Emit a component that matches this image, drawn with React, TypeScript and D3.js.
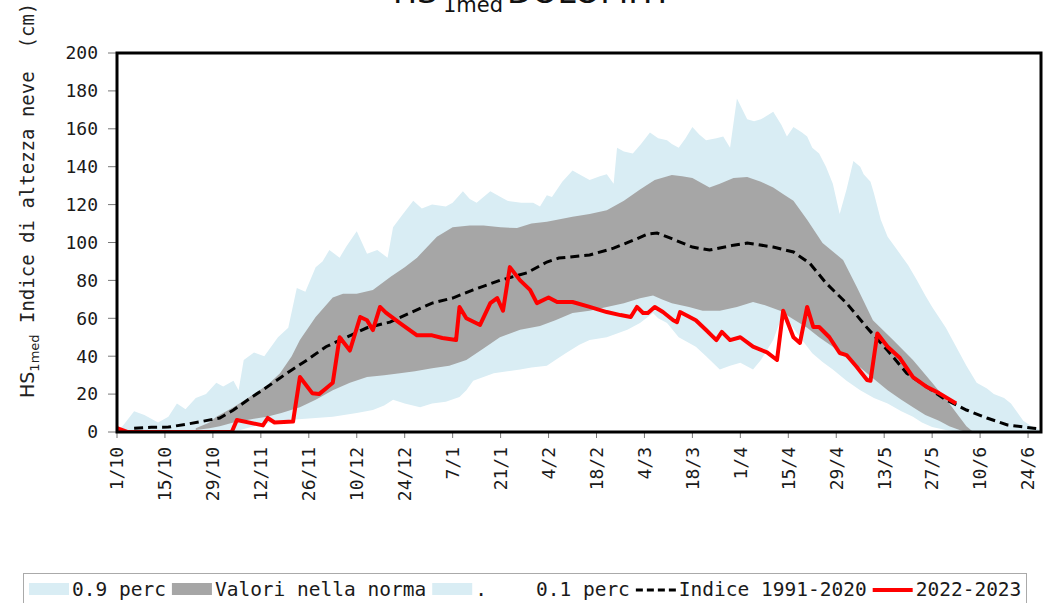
import React from 'react';
import * as d3 from 'd3';

// giorni dal 1/10 e valori (cm)
const xTickLabels = ['1/10', '15/10', '29/10', '12/11', '26/11', '10/12', '24/12', '7/1', '21/1', '4/2',
  '18/2', '4/3', '18/3', '1/4', '15/4', '29/4', '13/5', '27/5', '10/6', '24/6'];
const yTicks = [0, 20, 40, 60, 80, 100, 120, 140, 160, 180, 200];

const p90: [number, number][] = [[0, 0], [2, 4], [5, 11], [8, 9], [12, 5], [15, 8], [17.5, 15], [20, 12], [23, 18], [26, 20],
  [29, 26], [31, 24], [34, 27], [35.5, 22], [37, 38], [40, 42], [43, 40], [47, 50], [50, 55], [52.5, 76], [55, 74], [58, 87],
  [60, 90], [62, 96], [65, 92], [67, 98], [70, 106], [73, 94], [76, 96], [79, 92], [80.6, 108], [83.5, 115], [86.5, 122],
  [89, 118], [92, 120], [96, 119], [98, 121], [101, 127], [103, 123], [105, 121], [107, 124], [109, 127], [112, 124],
  [114, 122], [118, 121], [121.5, 121], [123.5, 119], [125.5, 125], [127, 124], [130, 132], [133, 138], [136, 135],
  [138, 133], [141, 135], [143, 136], [145, 131], [146, 150], [148, 148], [150.6, 147], [153, 152], [155.6, 158],
  [158, 155], [160.6, 154], [162, 152], [164, 150], [166, 155], [168, 161], [170, 157], [172, 154], [175, 155],
  [177, 156], [179, 150], [181, 176], [184, 165], [186, 164], [188, 165], [191.6, 169], [194, 162], [195.6, 156],
  [197.5, 161], [200, 158], [201.5, 156], [203, 150], [205, 147], [207, 140], [209, 131], [211, 115], [213, 128],
  [215, 143], [217, 140], [218, 136], [220, 132], [221, 126], [223, 112], [225, 103], [228.6, 94], [231, 88],
  [233.6, 80], [236, 72], [238, 66], [242, 55], [245, 45], [248, 35], [251, 26], [254, 23], [256, 20], [259, 18],
  [261, 15], [263, 10], [264.6, 6], [267, 3], [269.5, 1]];

const p75: [number, number][] = [[23, 2], [27, 5], [29, 8], [34, 13], [40, 20], [44, 25], [47.6, 31], [51, 40], [53.4, 48.5],
  [58, 60.7], [63, 71], [66, 73], [70, 73], [74.7, 75], [80, 82], [84, 87], [87.6, 92], [93.4, 103], [98, 108], [103, 109],
  [107, 109], [112, 108], [116.8, 107.6], [121, 110], [125.5, 111], [133, 113.6], [138, 115], [143, 117], [148, 122],
  [152.7, 128], [157, 133], [162, 135.6], [165, 135], [168, 134], [173, 129], [176, 131], [180, 134], [184, 134.6],
  [188, 132], [191.6, 129], [195, 125], [197.5, 122], [201.5, 112], [206, 99.7], [212, 90.8], [216, 76.5], [220.7, 59],
  [226.6, 48.5], [232.4, 38], [238, 26], [243, 15], [248, 3], [250, 0]];

const p25: [number, number][] = [[23, 1], [27, 2], [30, 3], [34, 5], [40, 7], [43.8, 8], [48, 10], [53.4, 13], [58, 17],
  [63, 22], [68, 26], [73, 29], [78, 30], [82.6, 31], [87, 32], [92, 33.6], [97, 35], [102, 38], [107, 44], [111.8, 50],
  [117.7, 54], [123.5, 56], [128, 59], [133, 62.8], [138, 64], [143, 66], [148, 68], [152.7, 70.6], [156.5, 72], [159, 70],
  [162, 68], [167, 66], [171, 64], [176, 64], [181, 66], [185.7, 68.6], [189, 67], [193.6, 64], [197, 60], [201.5, 55],
  [205, 50], [209, 45], [213, 39], [217, 34], [221, 28], [225, 22], [229, 17], [232.4, 13], [236, 9], [240, 6], [243, 3],
  [246, 1], [248, 0]];

const p10: [number, number][] = [[0, 0], [30, 0], [36, 1], [40, 3], [47, 6], [55, 7], [63, 8], [70, 10], [74.7, 11.6],
  [78, 14], [80.6, 17], [84, 15], [88.5, 13], [92, 15], [96, 16], [100, 18.5], [102, 22], [104, 27], [107, 29], [110, 31],
  [114, 32], [117.7, 33], [121, 34], [125.5, 35], [128, 38], [131, 41.5], [135, 46], [138, 48.5], [143, 50], [146, 52],
  [149, 54], [152.7, 57.5], [156.5, 62.8], [158, 60], [160.6, 57.5], [164, 50], [169, 45], [172, 40], [176, 33], [179, 35],
  [182, 36.6], [185.7, 33], [188, 38], [191.6, 48.5], [194.5, 62.8], [197, 56], [199.4, 50], [203, 41.5], [206, 37],
  [209, 33], [213, 27], [217, 22], [221, 18], [225, 15], [229, 11], [232.4, 8], [235, 5], [238, 2.6], [242, 1], [246, 0],
  [270, 0]];

const indice: [number, number][] = [[5, 2], [10, 2.5], [15, 2.6], [20, 4], [24, 5.3], [30, 7.4], [34, 11.6], [39, 18],
  [43.8, 23.7], [49.6, 31], [55.5, 38], [61, 45], [67, 50], [73, 55], [79.7, 58], [85.5, 62.8], [92, 68], [98, 70.7],
  [104, 75], [111.8, 80], [119.7, 84], [125.5, 89.7], [129, 91.8], [138, 93.4], [145, 97], [151.8, 102], [155, 104.5],
  [157.7, 105], [162, 102], [168, 97.6], [173, 96], [180, 98.6], [184, 99.7], [191.6, 97.6], [197.5, 95], [202.3, 89],
  [207, 78.6], [213, 68], [219, 55], [225, 43], [230.6, 31], [236.5, 23.7], [242, 17], [248, 11.6], [254, 7.4],
  [260, 3.7], [267.6, 2], [270, 1.5]];

const stagione: [number, number][] = [[0, 2], [3, 0], [33.5, 0], [35, 6.3], [42.6, 3.5], [44, 7.4], [46, 5], [51.4, 5.5],
  [53.4, 29], [57, 20.5], [59, 20], [61, 23], [63, 26], [65, 50], [68, 43], [71, 60.7], [73, 59], [74.7, 53.8],
  [76.8, 66], [78.5, 63], [82.6, 57.5], [87.6, 51], [92, 51], [95, 49.6], [99, 48.5], [100, 66], [102, 60], [106, 56.5],
  [109, 68], [111, 70.7], [112.7, 64], [114.7, 87], [117.7, 80], [120.6, 75], [122.6, 68], [126, 71], [128.5, 68.6],
  [133, 68.6], [138, 66], [143, 63.3], [147, 61.7], [150, 60.7], [151.8, 66], [153.6, 62.8], [155, 62.8], [157, 66],
  [159.4, 63.3], [162.4, 59], [163.5, 58], [164.4, 63.3], [169, 59], [172, 53.8], [175, 48.5], [176.6, 52.8], [179, 48.5],
  [182, 50], [185.7, 45], [189.8, 42], [192.7, 38], [194.5, 64], [197.5, 50], [199.4, 47], [201.5, 66], [203.3, 55.4],
  [205, 55.4], [208, 50], [211, 41.7], [213, 40.6], [216, 34.3], [219, 27.4], [220, 27], [222, 52], [225, 45],
  [228.6, 39], [232.4, 29], [236.5, 23.7], [240, 20.5], [245, 15]];

const legendLabels = ['0.9 perc', 'Valori nella norma', '.', '0.1 perc', 'Indice 1991-2020', '2022-2023'];

const LIGHT = '#d9edf4';
const GRAY = '#a6a6a6';
const MONO = '"DejaVu Sans Mono", monospace';
const SANS = '"DejaVu Sans", sans-serif';

const App = () => {
  const left = 117, right = 1041, top = 53, bottom = 432;
  const x = d3.scaleLinear().domain([0, 270]).range([left, 1041.75]);
  const y = d3.scaleLinear().domain([0, 200]).range([bottom, top]);
  const line = d3.line<[number, number]>().x(d => x(d[0])).y(d => y(d[1]));
  const band = (up: [number, number][], lo: [number, number][]) =>
    line([...up, ...lo.slice().reverse()]) + 'Z';

  // legenda
  const fs = 19.5;
  const cw = fs * 0.602;
  const symbols = ['light', 'gray', 'light', 'white', 'dash', 'red'];
  let lx = 29;
  const legend = legendLabels.map((lab, i) => {
    const item = { sx: lx, tx: lx + 43, lab, sym: symbols[i] };
    lx = lx + 43 + lab.length * cw + 6;
    return item;
  });

  return (
    <svg width={1044} height={603} style={{ position: 'absolute', left: 0, top: 0, background: '#fff' }}>
      <defs>
        <clipPath id="plot">
          <rect x={left} y={top} width={right - left} height={bottom - top} />
        </clipPath>
      </defs>

      {/* titolo (tagliato in alto come nell'originale) */}
      <text x={393} y={3} fontFamily={SANS} fontSize={32} fill="#111">HS</text>
      <text x={443} y={12} fontFamily={SANS} fontSize={21} fill="#111">1med</text>
      <text x={507} y={3} fontFamily={SANS} fontSize={32.5} fill="#111">DOLOMITI</text>

      {/* etichetta asse y */}
      <text transform="translate(34,398) rotate(-90)" fontFamily={MONO} fontSize={19} fill="#222" xmlSpace="preserve">
        <tspan fontFamily={SANS}>HS</tspan>
        <tspan fontFamily={SANS} fontSize={13} dy={5}>1med</tspan>
        <tspan dy={-5}>{' Indice di altezza neve  (cm)'}</tspan>
      </text>

      <g clipPath="url(#plot)">
        <path d={band(p90, p10)} fill={LIGHT} />
        <path d={band(p75, p25)} fill={GRAY} />
        <path d={line(indice) || ''} fill="none" stroke="#000" strokeWidth={3} strokeDasharray="9,5" />
        <path d={line(stagione) || ''} fill="none" stroke="#ff0000" strokeWidth={4} strokeLinejoin="round" />
      </g>

      {/* asse y */}
      {yTicks.map(t => (
        <g key={t} transform={`translate(0,${y(t)})`}>
          <line x1={left - 9} x2={left} stroke="#777" strokeWidth={1} />
          <text x={98} dy="0.35em" textAnchor="end" fontFamily={MONO} fontSize={18} fill="#1a1a1a">{t}</text>
        </g>
      ))}

      {/* asse x */}
      {xTickLabels.map((lab, i) => (
        <g key={lab} transform={`translate(${x(i * 14)},${bottom})`}>
          <line y1={0} y2={6} stroke="#777" strokeWidth={1} />
          <text transform="rotate(-90)" x={-15} dy="0.35em" textAnchor="end" fontFamily={MONO} fontSize={18} fill="#1a1a1a">{lab}</text>
        </g>
      ))}

      <rect x={left} y={top} width={right - left} height={bottom - top} fill="none" stroke="#000" strokeWidth={3} />

      {/* legenda */}
      <rect x={23.5} y={573.5} width={1003} height={40} fill="#fff" stroke="#aaa" strokeWidth={1} />
      {legend.map(it => (
        <g key={it.lab}>
          {it.sym === 'light' && <rect x={it.sx} y={583} width={40} height={12} fill={LIGHT} />}
          {it.sym === 'gray' && <rect x={it.sx} y={583} width={40} height={12} fill={GRAY} />}
          {it.sym === 'dash' && <line x1={it.sx} x2={it.sx + 40} y1={590} y2={590} stroke="#000" strokeWidth={3} strokeDasharray="7,4" />}
          {it.sym === 'red' && <line x1={it.sx} x2={it.sx + 40} y1={590} y2={590} stroke="#ff0000" strokeWidth={4} />}
          <text x={it.tx} y={596} fontFamily={MONO} fontSize={fs} fill="#1a1a1a">{it.lab}</text>
        </g>
      ))}
    </svg>
  );
};

export default App;
